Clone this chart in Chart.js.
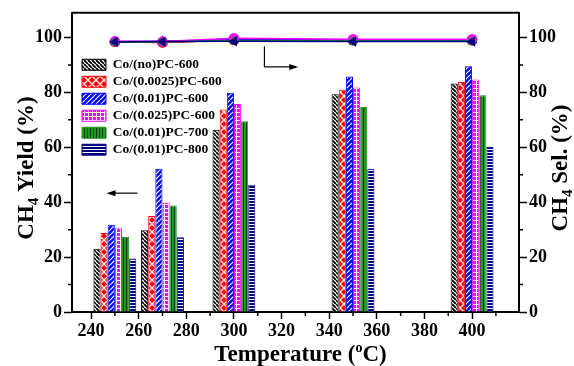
<!DOCTYPE html>
<html>
<head>
<meta charset="utf-8">
<script src="https://cdn.jsdelivr.net/npm/chart.js@4/dist/chart.umd.min.js"></script>
<style>
  body { margin: 0; background: #fff; }
  #wrap { width: 574px; height: 366px; }
</style>
</head>
<body>
<div id="wrap"><canvas id="myChart" width="574" height="366"></canvas></div>
<script>
// temperatures (oC)
var temps = [250, 270, 300, 350, 400];

var names = ['Co/(no)PC-600', 'Co/(0.0025)PC-600', 'Co/(0.01)PC-600', 'Co/(0.025)PC-600', 'Co/(0.01)PC-700', 'Co/(0.01)PC-800'];

// CH4 yield (%) - bars
var yield_no600 = [23.0, 29.8, 66.4, 79.3, 83.2];
var yield_0025_600 = [28.8, 35.0, 73.8, 81.0, 83.8];
var yield_001_600 = [31.8, 52.2, 79.9, 85.8, 89.5];
var yield_025_600 = [30.5, 39.9, 75.8, 81.8, 84.7];
var yield_001_700 = [27.4, 38.8, 69.5, 74.7, 79.0];
var yield_001_800 = [19.5, 27.2, 46.4, 52.2, 60.1];

// CH4 selectivity (%) - lines
var sel_no600 = [98.3, 98.3, 99.0, 98.9, 98.9];
var sel_0025_600 = [98.4, 98.2, 99.1, 99.0, 99.0];
var sel_001_600 = [98.5, 98.6, 99.2, 99.1, 99.0];
var sel_025_600 = [98.6, 98.5, 99.7, 99.4, 99.4];
var sel_001_700 = [98.3, 98.4, 98.9, 98.7, 98.7];
var sel_001_800 = [98.4, 98.5, 98.6, 98.5, 98.5];

// axes
var xMin = 232, xMax = 419.7, xStep = 20;
var yMin = 0, yMax = 109, yStep = 20;

var colores = ['#000000', '#ff0000', '#0000ff', '#ff00ff', '#1e9a1e', '#000080'];
var yields = [yield_no600, yield_0025_600, yield_001_600, yield_025_600, yield_001_700, yield_001_800];
var sels = [sel_no600, sel_0025_600, sel_001_600, sel_025_600, sel_001_700, sel_001_800];

var FONT = "'Liberation Serif', 'Times New Roman', serif";

function patron(size, bg, fg, lw, dibujar) {
    var c = document.createElement('canvas');
    c.width = size;
    c.height = size;
    var g = c.getContext('2d');
    g.fillStyle = bg;
    g.fillRect(0, 0, size, size);
    g.strokeStyle = fg;
    g.lineWidth = lw;
    g.beginPath();
    dibujar(g, size);
    g.stroke();
    return g.createPattern(c, 'repeat');
}

function diagAbajo(g, s) {
    for (var k = -s; k <= s; k += s) { g.moveTo(k, 0); g.lineTo(k + s, s); }
}
function diagArriba(g, s) {
    for (var k = -s; k <= s; k += s) { g.moveTo(k, s); g.lineTo(k + s, 0); }
}

var patrones = [
    patron(4, '#ffffff', '#000000', 1.8, diagAbajo),
    patron(8, '#ff0000', '#ffffff', 1.3, function (g, s) { diagAbajo(g, s); diagArriba(g, s); }),
    patron(5, '#0000ff', '#ffffff', 1.2, diagArriba),
    patron(4, '#ff00ff', '#ffffff', 1, function (g, s) { g.moveTo(0, 0.5); g.lineTo(s, 0.5); g.moveTo(0.5, 0); g.lineTo(0.5, s); }),
    patron(3, '#1e9a1e', '#0a3a0a', 1, function (g, s) { g.moveTo(0.5, 0); g.lineTo(0.5, s); }),
    patron(3, '#ffffff', '#000080', 2, function (g, s) { g.moveTo(0, 1); g.lineTo(s, 1); })
];

var estilos = ['rect', 'circle', 'triangle', 'circle', 'star', 'triangle'];
var rotaciones = [0, 0, 0, 0, 0, -90];
var ordenLinea = [5, 4, 3, 2, 1, 0];

var datasets = [];
for (var i = 0; i < names.length; i++) {
    datasets.push({
        type: 'bar',
        label: names[i],
        data: temps.map(function (t, j) { return { x: t, y: yields[i][j] }; }),
        backgroundColor: patrones[i],
        borderColor: colores[i],
        borderWidth: 1,
        xAxisID: 'x',
        yAxisID: 'y',
        order: 20,
        categoryPercentage: 0.9,
        barPercentage: 1.0
    });
}
for (var i = 0; i < names.length; i++) {
    datasets.push({
        type: 'line',
        label: names[i] + ' sel',
        data: temps.map(function (t, j) { return { x: t, y: sels[i][j] }; }),
        borderColor: colores[i],
        backgroundColor: colores[i],
        borderWidth: 1.5,
        pointStyle: estilos[i],
        pointRotation: rotaciones[i],
        pointRadius: 4.5,
        pointBackgroundColor: colores[i],
        pointBorderColor: colores[i],
        xAxisID: 'x',
        yAxisID: 'y1',
        order: ordenLinea[i]
    });
}

function textoRico(ctx, partes, x, y) {
    var total = 0;
    partes.forEach(function (p) {
        ctx.font = 'bold ' + p.s + 'px ' + FONT;
        total += ctx.measureText(p.t).width;
    });
    var cx = x - total / 2;
    partes.forEach(function (p) {
        ctx.font = 'bold ' + p.s + 'px ' + FONT;
        ctx.fillText(p.t, cx, y + (p.dy || 0));
        cx += ctx.measureText(p.t).width;
    });
}

function flecha(ctx, x0, y0, x1, y1) {
    var ang = Math.atan2(y1 - y0, x1 - x0);
    ctx.beginPath();
    ctx.moveTo(x0, y0);
    ctx.lineTo(x1 - 6 * Math.cos(ang), y1 - 6 * Math.sin(ang));
    ctx.stroke();
    ctx.beginPath();
    ctx.moveTo(x1, y1);
    ctx.lineTo(x1 - 9 * Math.cos(ang) + 3 * Math.sin(ang), y1 - 9 * Math.sin(ang) - 3 * Math.cos(ang));
    ctx.lineTo(x1 - 9 * Math.cos(ang) - 3 * Math.sin(ang), y1 - 9 * Math.sin(ang) + 3 * Math.cos(ang));
    ctx.closePath();
    ctx.fill();
}

var posLeyenda = {
    id: 'posLeyenda',
    afterLayout: function (chart) {
        chart.legend.left = 78.5;
        chart.legend.top = 54.5;
    }
};

var extras = {
    id: 'extras',
    afterDraw: function (chart) {
        var ctx = chart.ctx;
        var a = chart.chartArea;
        var sx = chart.scales.x, sy = chart.scales.y;
        ctx.save();
        ctx.strokeStyle = '#000';
        ctx.fillStyle = '#000';

        // caja superior
        ctx.lineWidth = 2;
        ctx.beginPath();
        ctx.moveTo(a.left, a.top);
        ctx.lineTo(a.right, a.top);
        ctx.stroke();

        // ticks menores
        ctx.lineWidth = 1.5;
        ctx.beginPath();
        for (var v = 10; v < yMax; v += 20) {
            var py = sy.getPixelForValue(v);
            ctx.moveTo(a.left - 4, py); ctx.lineTo(a.left, py);
            ctx.moveTo(a.right, py); ctx.lineTo(a.right + 4, py);
        }
        for (var t = 250; t < xMax; t += 20) {
            var px = sx.getPixelForValue(t);
            ctx.moveTo(px, a.bottom); ctx.lineTo(px, a.bottom + 4);
        }
        ctx.stroke();

        // flechas
        ctx.lineWidth = 1.2;
        flecha(ctx, sx.getPixelForValue(259.5), sy.getPixelForValue(43.3), sx.getPixelForValue(246.5), sy.getPixelForValue(43.3));
        var bx = sx.getPixelForValue(312.8);
        var by = sy.getPixelForValue(89.3);
        ctx.beginPath();
        ctx.moveTo(bx, sy.getPixelForValue(96.8));
        ctx.lineTo(bx, by);
        ctx.stroke();
        flecha(ctx, bx, by, sx.getPixelForValue(327), by);

        // titulos
        ctx.textBaseline = 'alphabetic';
        ctx.textAlign = 'left';
        textoRico(ctx, [{ t: 'Temperature (', s: 23 }, { t: 'o', s: 14, dy: -9 }, { t: 'C)', s: 23 }], (a.left + a.right) / 2 + 5, 361);

        ctx.save();
        ctx.translate(33, 168);
        ctx.rotate(-Math.PI / 2);
        textoRico(ctx, [{ t: 'CH', s: 23 }, { t: '4', s: 15, dy: 5 }, { t: ' Yield (%)', s: 23 }], 0, 0);
        ctx.restore();

        ctx.save();
        ctx.translate(567, 168);
        ctx.rotate(-Math.PI / 2);
        textoRico(ctx, [{ t: 'CH', s: 23 }, { t: '4', s: 15, dy: 5 }, { t: ' Sel. (%)', s: 23 }], 0, 0);
        ctx.restore();

        ctx.restore();
    }
};

var ejeY = function (pos, ancho) {
    return {
        type: 'linear',
        position: pos,
        min: yMin,
        max: yMax,
        afterFit: function (s) { s.width = ancho; },
        border: { display: true, color: '#000', width: 2 },
        grid: { drawOnChartArea: false, color: '#000', tickColor: '#000', tickLength: 8, tickWidth: 1.5 },
        ticks: {
            stepSize: yStep,
            includeBounds: false,
            color: '#000',
            padding: 2,
            font: { family: FONT, size: 18, weight: 'bold' }
        }
    };
};

var ctx = document.getElementById('myChart').getContext('2d');
var myChart = new Chart(ctx, {
    type: 'bar',
    data: { datasets: datasets },
    options: {
        responsive: false,
        animation: false,
        devicePixelRatio: 1,
        layout: { padding: { top: 12, left: 0, right: 0, bottom: 0 } },
        scales: {
            x: {
                type: 'linear',
                position: 'bottom',
                min: xMin,
                max: xMax,
                offset: false,
                afterFit: function (s) { s.height = 54; },
                border: { display: true, color: '#000', width: 2 },
                grid: { offset: false, drawOnChartArea: false, color: '#000', tickColor: '#000', tickLength: 7, tickWidth: 1.5 },
                ticks: {
                    stepSize: xStep,
                    includeBounds: false,
                    color: '#000',
                    padding: 2,
                    maxRotation: 0,
                    font: { family: FONT, size: 18, weight: 'bold' }
                }
            },
            y: ejeY('left', 72),
            y1: ejeY('right', 55)
        },
        plugins: {
            tooltip: { enabled: false },
            legend: {
                position: 'chartArea',
                align: 'start',
                labels: {
                    boxWidth: 24,
                    boxHeight: 11,
                    padding: 3.5,
                    color: '#000',
                    font: { family: FONT, size: 13.5, weight: 'bold', lineHeight: 1.25 },
                    filter: function (item) { return item.datasetIndex < 6; }
                }
            }
        }
    },
    plugins: [posLeyenda, extras]
});
</script>
</body>
</html>
